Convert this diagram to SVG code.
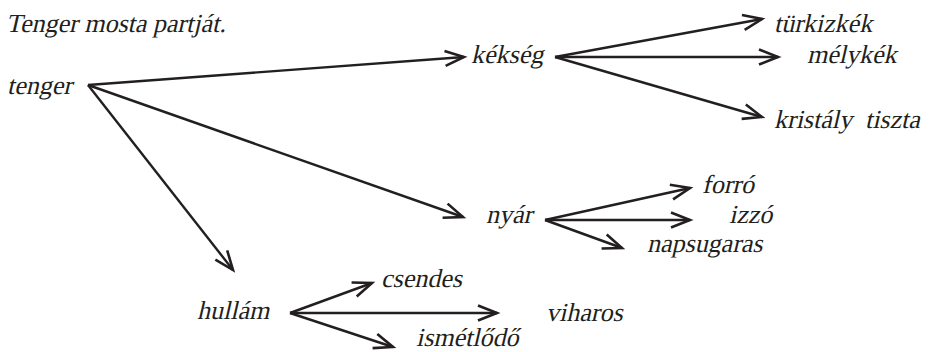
<svg xmlns="http://www.w3.org/2000/svg" width="929" height="352" viewBox="0 0 929 352">
<defs>
<marker id="ah" markerUnits="userSpaceOnUse" markerWidth="26" markerHeight="22" refX="21" refY="10" orient="auto">
<path d="M2,2.5 L21,10 L2,17.5" fill="none" stroke="#231f20" stroke-width="2.6" stroke-linejoin="miter"/>
</marker>
</defs>
<rect width="929" height="352" fill="#fff"/>
<g id="connectors" stroke="#231f20" stroke-width="2.4" fill="none" marker-end="url(#ah)">
<line x1="88" y1="85" x2="464" y2="57"/>
<line x1="88" y1="85" x2="463" y2="217"/>
<line x1="88" y1="85" x2="233" y2="270"/>
<line x1="555" y1="57" x2="762" y2="19"/>
<line x1="555" y1="57" x2="778" y2="57"/>
<line x1="555" y1="57" x2="762" y2="117"/>
<line x1="545" y1="220" x2="690" y2="188"/>
<line x1="545" y1="220" x2="690" y2="220"/>
<line x1="545" y1="220" x2="622" y2="248"/>
<line x1="290" y1="313" x2="372" y2="283"/>
<line x1="290" y1="313" x2="497" y2="313"/>
<line x1="290" y1="313" x2="393" y2="347"/>
</g>
<g id="title" transform="translate(6,32) skewX(-13)"><text x="0" y="0" font-family="Liberation Serif" font-size="26" fill="#231f20">Tenger mosta partját.</text></g>
<g id="tenger" transform="translate(7,94) skewX(-13)"><text x="0" y="0" font-family="Liberation Serif" font-size="26" fill="#231f20">tenger</text></g>
<g id="kekseg" transform="translate(471,63) skewX(-13)"><text x="0" y="0" font-family="Liberation Serif" font-size="26" fill="#231f20">kékség</text></g>
<g id="turkizkek" transform="translate(774,32) skewX(-13)"><text x="0" y="0" font-family="Liberation Serif" font-size="26" fill="#231f20">türkizkék</text></g>
<g id="melykek" transform="translate(807,63) skewX(-13)"><text x="0" y="0" font-family="Liberation Serif" font-size="26" fill="#231f20">mélykék</text></g>
<g id="kristaly" transform="translate(774,128) skewX(-13)"><text x="0" y="0" font-family="Liberation Serif" font-size="26" fill="#231f20" xml:space="preserve">kristály  tiszta</text></g>
<g id="nyar" transform="translate(486,223) skewX(-13)"><text x="0" y="0" font-family="Liberation Serif" font-size="26" fill="#231f20">nyár</text></g>
<g id="forro" transform="translate(702,193) skewX(-13)"><text x="0" y="0" font-family="Liberation Serif" font-size="26" fill="#231f20">forró</text></g>
<g id="izzo" transform="translate(729,223) skewX(-13)"><text x="0" y="0" font-family="Liberation Serif" font-size="26" fill="#231f20">izzó</text></g>
<g id="napsugaras" transform="translate(647,252) skewX(-13)"><text x="0" y="0" font-family="Liberation Serif" font-size="26" fill="#231f20">napsugaras</text></g>
<g id="hullam" transform="translate(197,319) skewX(-13)"><text x="0" y="0" font-family="Liberation Serif" font-size="26" fill="#231f20">hullám</text></g>
<g id="csendes" transform="translate(381,287) skewX(-13)"><text x="0" y="0" font-family="Liberation Serif" font-size="26" fill="#231f20">csendes</text></g>
<g id="viharos" transform="translate(546,321) skewX(-13)"><text x="0" y="0" font-family="Liberation Serif" font-size="26" fill="#231f20">viharos</text></g>
<g id="ismetlodo" transform="translate(416,346) skewX(-13)"><text x="0" y="0" font-family="Liberation Serif" font-size="26" fill="#231f20">ismétlődő</text></g>
</svg>
